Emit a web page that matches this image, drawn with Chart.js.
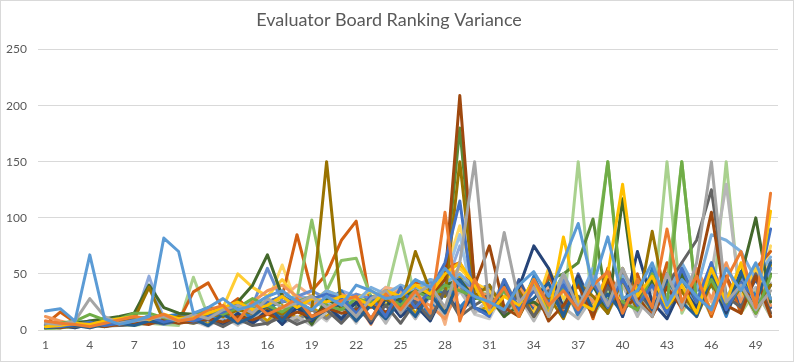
<!DOCTYPE html>
<html>
<head>
<meta charset="utf-8">
<script src="https://cdn.jsdelivr.net/npm/chart.js@4.4.1/dist/chart.umd.min.js"></script>
<style>
  html,body{margin:0;padding:0;background:#fff;}
  #wrap{width:794px;height:362px;position:relative;}
</style>
</head>
<body>
<div id="wrap"><canvas id="chart"></canvas></div>
<script>
const categories=[1,2,3,4,5,6,7,8,9,10,11,12,13,14,15,16,17,18,19,20,21,22,23,24,25,26,27,28,29,30,31,32,33,34,35,36,37,38,39,40,41,42,43,44,45,46,47,48,49,50];
const yTicks=[0,50,100,150,200,250];

const s1=[17,19,8,67,10,5,8,12,82,70, 15,20,28,18,22,30,35,25,18,30, 22,40,35,28,30,45,38,55,40,30, 25,18,40,52,30,62,95,40,83,28, 35,60,22,45,30,18,55,35,60,28];
const s2=[8,6,5,3,6,9,12,10,14,8, 10,18,22,8,25,14,20,28,12,18, 26,30,10,32,18,35,15,105,8,45, 20,38,12,45,22,35,18,40,52,15, 45,20,90,25,48,15,45,70,20,122];
const s3=[6,5,8,28,12,6,8,10,12,8, 14,10,18,22,15,28,20,24,30,20, 25,12,28,35,15,32,40,20,60,150, 18,87,25,38,12,50,20,48,22,55, 25,12,50,20,60,150,25,40,18,35];
const s4=[3,4,6,5,8,10,12,9,14,10, 12,15,20,25,18,22,30,20,28,25, 30,28,22,35,30,40,32,50,60,40, 15,30,22,45,12,83,25,18,50,130, 30,48,20,40,15,55,25,60,22,106];
const s5=[4,3,5,7,4,6,9,12,7,10, 8,12,16,22,18,25,30,22,28,32, 28,15,30,12,38,20,35,60,115,20, 12,45,18,35,25,40,15,42,20,45, 22,40,15,55,25,60,18,42,28,90];
const s6=[5,6,8,14,9,10,15,15,11,8, 12,18,14,20,28,22,16,25,30,22, 18,28,25,30,22,35,28,40,35,30, 22,35,12,45,20,38,15,42,150,25, 18,50,22,150,25,45,20,40,15,48];
const s7=[2,3,4,2,5,6,4,8,6,9, 10,4,14,6,12,22,8,25,10,18, 24,8,22,10,26,12,32,15,45,20, 15,40,20,28,42,12,45,18,32,15, 42,18,45,25,12,48,20,52,25,60];
const s8=[3,2,4,6,3,5,7,5,9,6, 8,10,7,12,9,14,10,16,12,20, 15,18,22,16,25,20,30,45,209,40, 75,20,12,38,8,22,40,12,45,18, 30,12,38,20,45,105,22,15,48,12];
const s9=[2,4,3,5,6,4,5,7,6,8, 6,9,3,10,4,6,12,5,10,18, 6,20,8,22,6,25,10,35,12,22, 30,15,32,12,35,20,30,15,38,22, 35,18,40,60,80,125,30,20,50,15];
const s10=[4,5,3,6,4,8,10,38,8,12, 10,14,12,18,15,20,14,25,18,150, 20,15,22,28,20,70,35,30,150,30, 40,18,35,12,30,10,42,30,15,45, 18,88,20,35,12,42,20,38,15,40];
const s11=[3,4,2,5,3,6,5,8,6,10, 8,12,4,15,6,18,5,20,8,22, 10,25,6,28,12,22,8,35,14,32, 28,15,38,75,55,20,48,15,45,12, 70,25,10,38,20,45,15,42,18,40];
const s12=[5,4,6,8,10,12,15,40,20,15, 14,20,18,25,40,67,30,22,5,28, 20,18,25,22,28,35,30,40,45,28, 30,12,22,25,15,38,20,40,15,117, 20,45,15,50,25,55,20,48,100,25];
const s13=[6,5,8,7,10,6,9,12,8,10, 12,15,20,18,25,22,30,28,24,35, 30,25,38,32,40,35,45,42,50,38, 20,35,15,38,22,50,25,55,18,48, 22,45,30,60,35,85,80,70,45,65];
const s14=[12,8,5,2,6,4,8,10,6,9, 14,10,18,20,25,35,40,30,22,28, 32,25,5,30,35,28,22,10,40,35, 30,15,38,22,35,20,40,25,48,15, 40,20,45,18,55,28,60,25,50,22];
const s15=[4,3,5,6,4,7,5,8,6,9, 10,4,12,5,10,18,6,12,4,16, 22,8,25,6,28,10,30,12,35,15, 28,12,30,8,32,20,10,30,15,40, 12,38,25,35,15,50,130,25,38,12];
const s16=[2,3,5,4,6,5,8,6,10,8, 6,12,20,50,38,30,45,28,25,35, 30,28,35,25,32,40,38,45,55,42, 35,20,30,15,55,28,40,20,45,22, 42,25,48,20,52,15,58,30,55,28];
const s17=[3,4,3,5,6,4,7,9,5,8, 10,12,15,18,22,55,25,30,35,28, 25,32,28,35,30,38,42,50,45,35, 20,35,18,42,15,45,22,42,25,48, 15,50,22,55,18,60,22,45,20,55];
const s18=[1,2,3,4,5,4,6,8,7,6, 10,14,18,22,20,25,30,28,98,35, 62,64,30,25,28,32,40,35,45,38, 22,35,15,38,25,50,18,55,150,20, 45,22,40,150,25,48,15,42,20,55];
const s19=[7,6,5,8,7,9,11,9,12,14, 10,15,6,25,8,28,10,30,8,25, 35,12,30,15,22,35,12,45,20,35, 18,42,15,48,20,45,12,38,25,42, 15,55,20,48,22,45,12,50,30,55];
const s20=[5,16,7,4,6,8,5,10,12,8, 34,42,18,28,15,22,30,85,35,50, 80,97,20,35,30,42,38,55,60,35, 30,15,40,12,50,18,48,10,55,22, 50,15,60,20,45,12,48,15,55,70];
const s21=[5,4,6,5,7,8,6,10,8,12, 10,4,12,6,15,5,16,8,18,10, 20,8,22,10,30,12,35,14,40,18, 15,40,18,42,12,45,20,48,15,50, 25,40,15,48,20,45,25,50,22,62];
const s22=[3,2,4,5,3,6,8,6,10,12, 14,5,18,6,20,8,22,10,20,12, 25,10,28,12,38,14,40,15,50,18, 20,35,12,38,22,50,15,40,20,55, 18,45,20,55,15,52,25,45,18,58];
const s23=[4,3,5,4,6,5,7,8,6,9, 8,12,4,14,6,15,8,20,10,18, 8,28,10,30,12,28,14,40,16,35, 40,12,45,18,35,15,50,20,40,12, 48,15,50,20,40,18,48,22,45,20];
const s24=[6,5,7,6,8,10,9,12,10,8, 12,10,15,18,22,20,25,28,5,20, 25,22,30,28,35,30,38,45,180,40, 35,15,42,20,45,50,60,99,20,45, 15,50,20,45,25,40,18,52,20,50];
const s25=[2,3,5,6,4,8,6,10,8,12, 10,14,5,15,8,20,6,22,10,24, 12,25,10,28,12,38,15,45,85,18, 15,42,20,45,18,48,22,50,20,55, 25,52,20,58,28,55,30,48,25,50];
const s26=[8,6,5,4,7,6,8,10,12,10, 12,15,18,20,25,22,28,40,30,25, 32,28,22,38,35,30,42,5,60,38, 35,12,45,20,38,15,45,20,48,15, 45,22,55,18,42,25,45,20,58,15];
const s27=[3,4,2,5,3,4,6,5,8,6, 8,3,12,4,18,5,16,6,18,8, 25,6,28,8,30,10,32,12,38,14, 10,35,12,38,15,40,12,42,15,45, 18,35,12,42,20,50,15,40,12,42];
const s28=[4,5,3,6,4,7,5,9,7,10, 8,12,15,20,18,25,58,22,28,25, 30,22,35,28,40,32,38,50,93,42, 15,45,20,38,12,42,25,45,18,48, 25,45,20,48,15,50,22,55,18,75];
const s29=[2,3,4,5,4,6,8,48,10,8, 12,15,10,18,22,20,25,30,28,22, 35,30,28,38,32,40,45,38,75,42, 18,45,15,35,20,42,18,45,22,48, 15,52,20,58,22,55,18,45,25,40];
const s30=[1,2,3,4,3,5,4,6,5,4, 47,12,8,15,12,20,18,22,25,20, 28,25,22,30,84,28,35,30,40,35, 32,12,35,10,38,15,150,12,35,15, 38,12,150,15,40,12,150,15,35,12];

const seriesList=[s1,s2,s3,s4,s5,s6,s7,s8,s9,s10,s11,s12,s13,s14,s15,s16,s17,s18,s19,s20,s21,s22,s23,s24,s25,s26,s27,s28,s29,s30];
const colors=['#5B9BD5','#ED7D31','#A5A5A5','#FFC000','#4472C4','#70AD47',
  '#255E91','#9E480E','#636363','#997300','#264478','#43682B',
  '#7CAFDD','#F1975A','#B7B7B7','#FFCD33','#698ED0','#8CC168',
  '#327DC2','#D26012','#848484','#CC9A00','#3A5FA0','#5A8A39',
  '#9DC3E6','#F4B183','#C9C9C9','#FFD966','#8FAADC','#A9D18E'];

const frame={
  id:'frame',
  afterDraw(c){
    const ctx=c.ctx;
    ctx.save();
    ctx.strokeStyle='#D9D9D9';
    ctx.lineWidth=1;
    ctx.strokeRect(0.5,0.5,c.width-1,c.height-1);
    ctx.restore();
  }
};

new Chart(document.getElementById('chart'),{
  type:'line',
  data:{
    labels:categories,
    datasets:seriesList.map((d,i)=>({
      label:'Series'+(i+1),
      data:d,
      borderColor:colors[i],
      backgroundColor:colors[i],
      borderWidth:3,
      pointRadius:0,
      tension:0,
      borderJoinStyle:'round',
      borderCapStyle:'round'
    }))
  },
  options:{
    responsive:true,
    maintainAspectRatio:false,
    animation:false,
    layout:{padding:{left:0,right:16,top:0,bottom:0}},
    plugins:{
      legend:{display:false},
      tooltip:{enabled:false},
      title:{
        display:true,
        text:'Evaluator Board Ranking Variance',
        color:'#595959',
        font:{family:'Lato',size:18,weight:'normal'},
        padding:{top:9,bottom:19}
      }
    },
    scales:{
      x:{
        offset:true,
        grid:{display:false,drawTicks:false},
        border:{display:true,color:'#D9D9D9'},
        ticks:{
          autoSkip:false,maxRotation:0,padding:8,
          color:'#595959',font:{family:'Lato',size:12},
          callback:(v,i)=> i%3===0 ? String(categories[i]) : ''
        },
        afterFit(s){ s.height=32; }
      },
      y:{
        min:0,max:250,
        grid:{color:'#D9D9D9',drawTicks:false},
        border:{display:false},
        afterBuildTicks(s){ s.ticks=yTicks.map(v=>({value:v})); },
        ticks:{padding:11,color:'#595959',font:{family:'Lato',size:12}},
        afterFit(s){ s.width=38; }
      }
    }
  },
  plugins:[frame]
});
</script>
</body>
</html>
